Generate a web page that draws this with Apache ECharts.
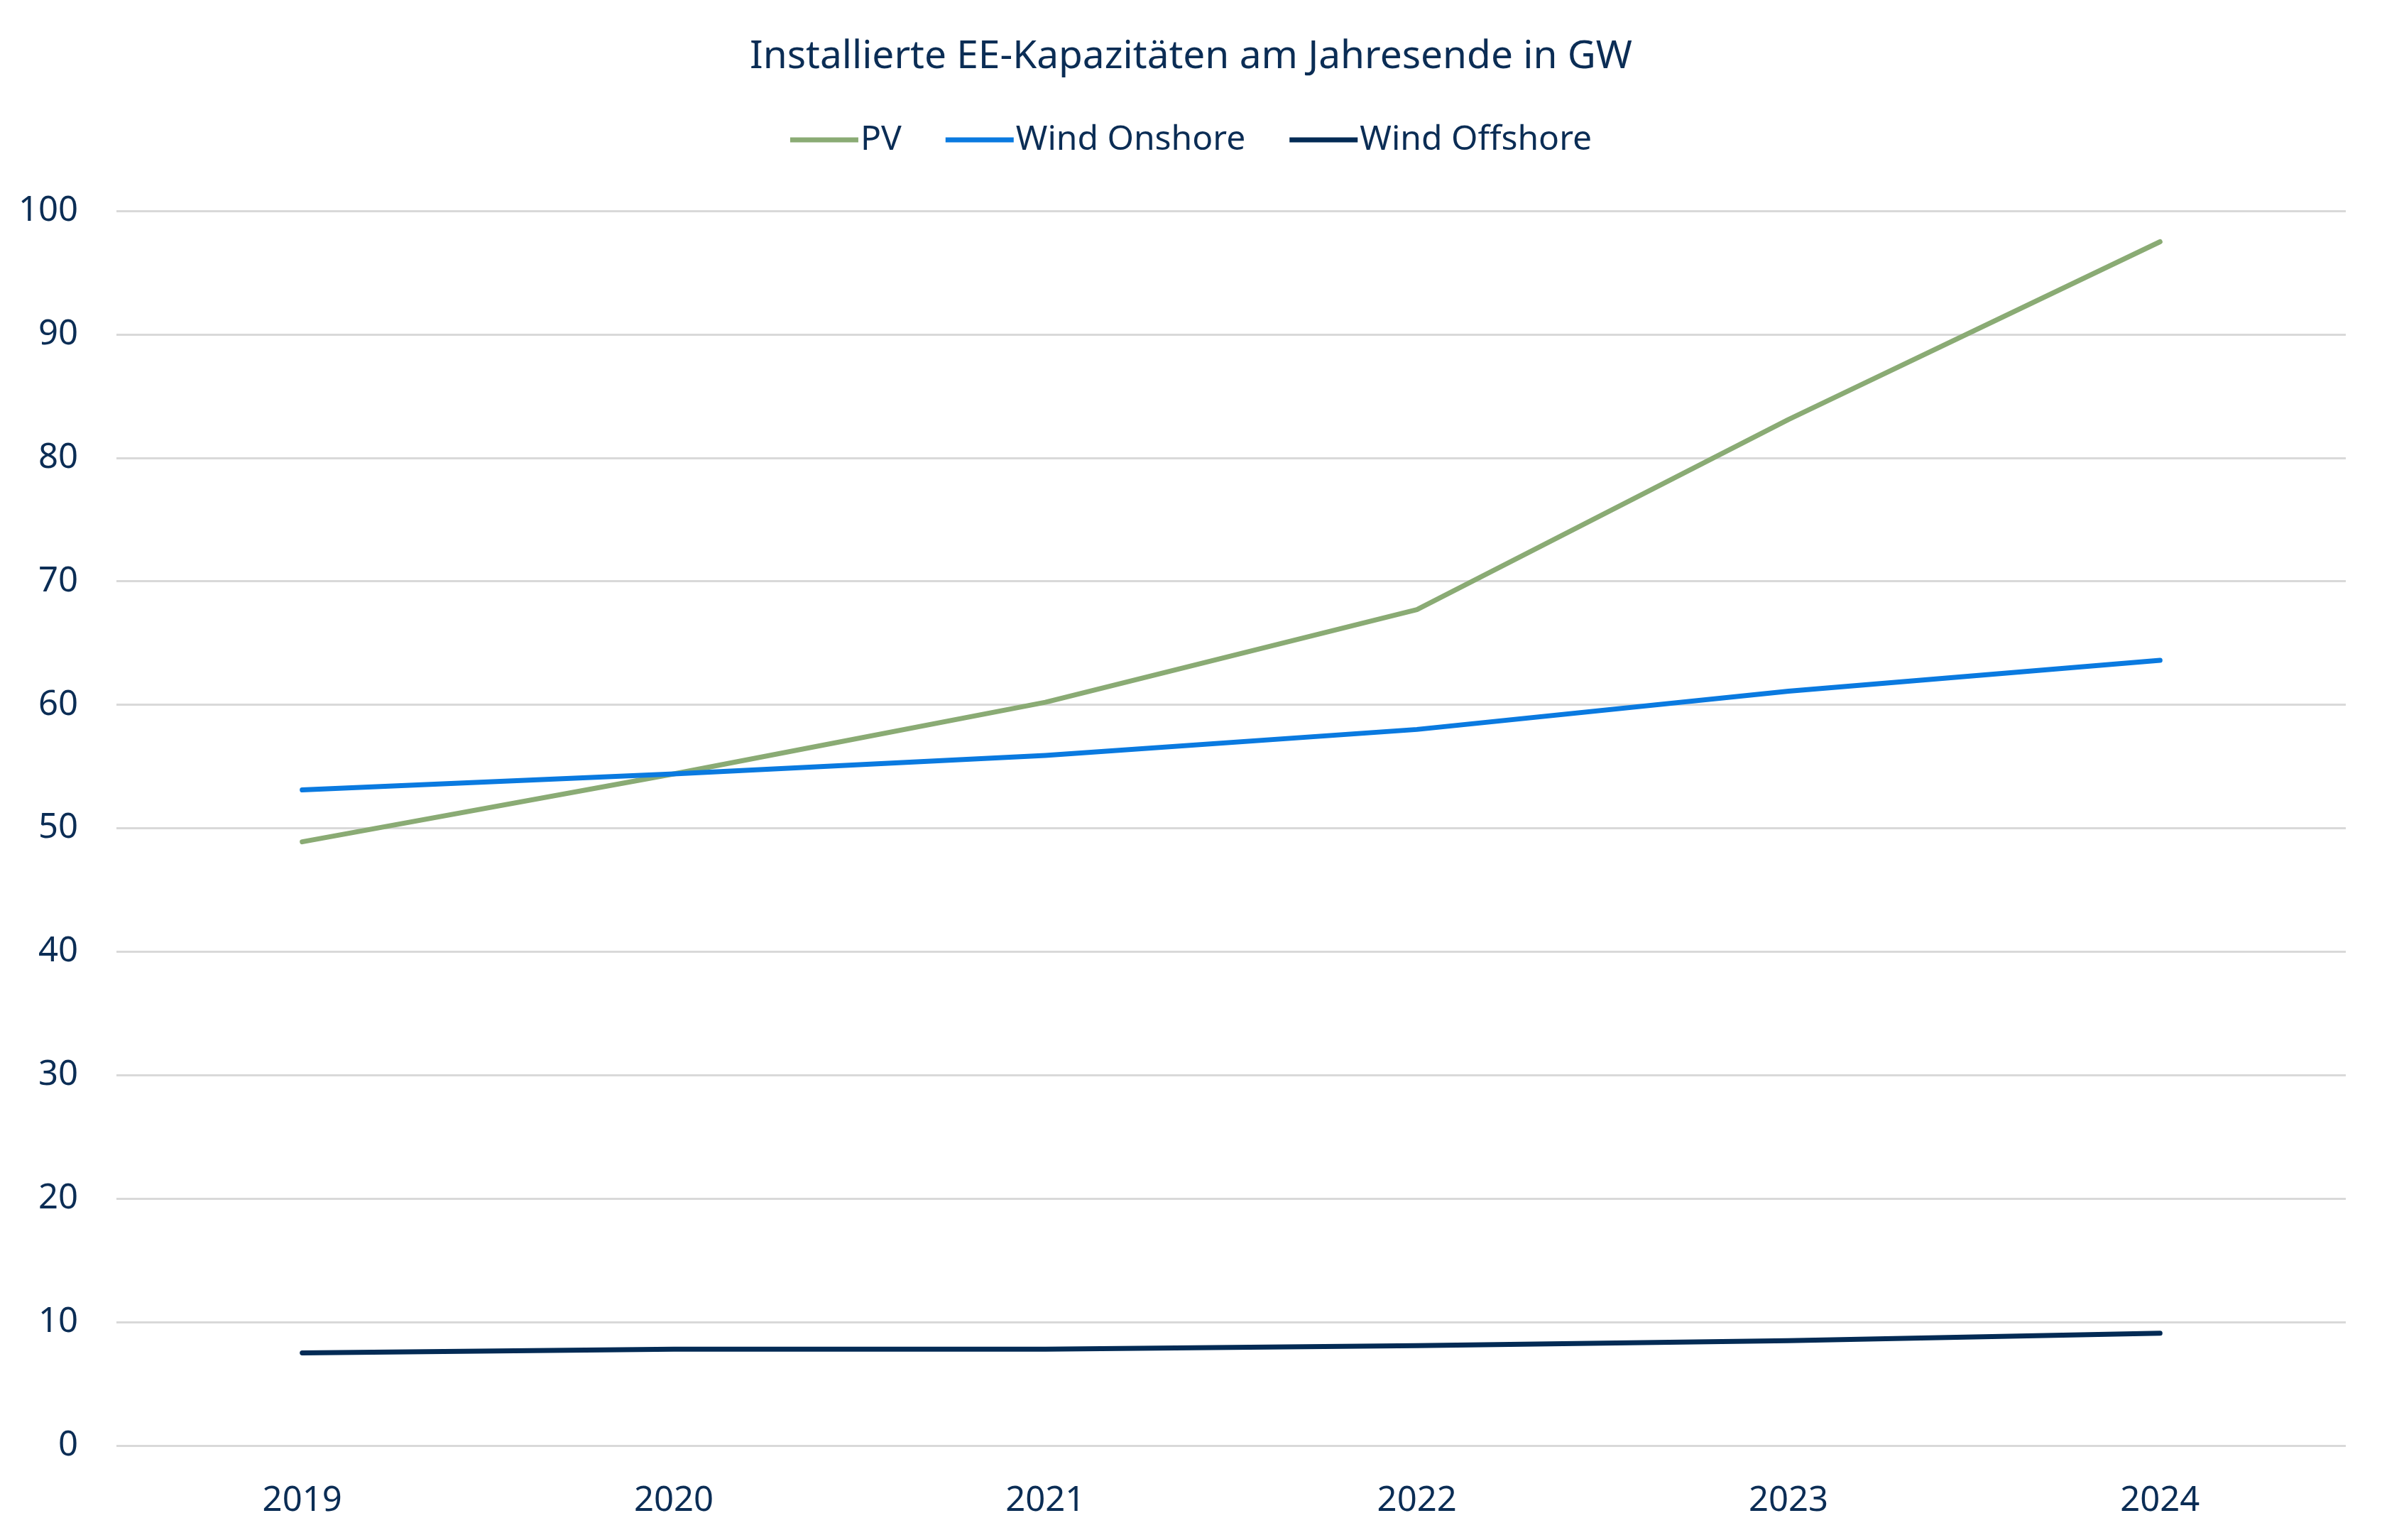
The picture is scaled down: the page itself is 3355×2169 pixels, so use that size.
<!DOCTYPE html>
<html>
<head>
<meta charset="utf-8">
<script src="https://cdn.jsdelivr.net/npm/echarts@6/dist/echarts.min.js"></script>
<style>
  html, body { margin: 0; padding: 0; background: #fff; }
  #chart { width: 3355px; height: 2169px; }
</style>
</head>
<body>
<div id="chart"></div>
<script>
// Jahre (x-Achse)
var years = ['2019', '2020', '2021', '2022', '2023', '2024'];
// Werte in GW
var pv = [48.9, 54.4, 60.2, 67.7, 83.1, 97.5];
var windOnshore = [53.1, 54.4, 55.9, 58.0, 61.1, 63.6];
var windOffshore = [7.5, 7.8, 7.8, 8.1, 8.5, 9.1];
// y-Achse
var yMin = 0, yMax = 100, yStep = 10;

var textColor = '#0b2d55';
var fontName = 'Noto Sans';

function lineSeries(name, data, color) {
	return {
		name: name,
		type: 'line',
		data: data,
		symbol: 'none',
		lineStyle: { color: color, width: 7, cap: 'round', join: 'round' },
		itemStyle: { color: color },
		animation: false
	};
}

var myChart = echarts.init(document.getElementById('chart'));
var option = {
	backgroundColor: '#ffffff',
	textStyle: { fontFamily: fontName, color: textColor },
	title: {
		text: 'Installierte EE-Kapazitäten am Jahresende in GW',
		left: 'center',
		top: 48,
		textStyle: { fontFamily: fontName, fontSize: 55, fontWeight: 'normal', color: textColor }
	},
	legend: {
		top: 168,
		left: 'center',
		icon: 'rect',
		itemWidth: 96,
		itemHeight: 7,
		itemGap: 62,
		textStyle: { fontFamily: fontName, fontSize: 48, color: textColor, padding: [0, 0, 0, -2] },
		data: ['PV', 'Wind Onshore', 'Wind Offshore']
	},
	grid: { left: 164, right: 51, top: 297, bottom: 133, containLabel: false },
	xAxis: {
		type: 'category',
		data: years,
		boundaryGap: true,
		axisLine: { show: false },
		axisTick: { show: false },
		axisLabel: { fontFamily: fontName, fontSize: 49, color: textColor, margin: 54 }
	},
	yAxis: {
		type: 'value',
		min: yMin,
		max: yMax,
		interval: yStep,
		axisLine: { show: false },
		axisTick: { show: false },
		axisLabel: { fontFamily: fontName, fontSize: 49, color: textColor, margin: 54 },
		splitLine: { lineStyle: { color: '#d9d9d9', width: 3 } }
	},
	series: [
		lineSeries('PV', pv, '#8aab74'),
		lineSeries('Wind Onshore', windOnshore, '#0a7ae0'),
		lineSeries('Wind Offshore', windOffshore, '#032b55')
	]
};
myChart.setOption(option);
</script>
</body>
</html>
